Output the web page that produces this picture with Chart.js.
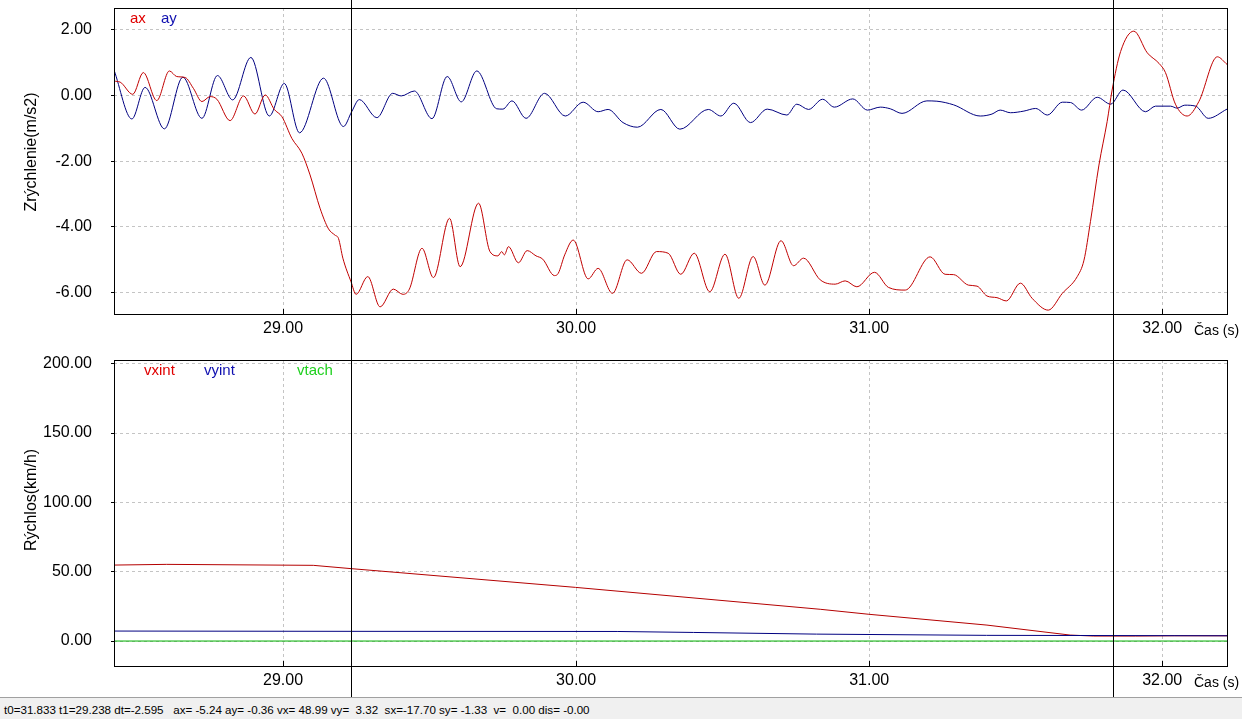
<!DOCTYPE html>
<html>
<head>
<meta charset="utf-8">
<script src="https://cdn.jsdelivr.net/npm/chart.js@4.4.0/dist/chart.umd.min.js"></script>
<style>
  body { margin: 0; width: 1242px; height: 719px; overflow: hidden; position: relative; background: #fff;
         font-family: "Liberation Sans", Arial, sans-serif; color: #000; }
  canvas { position: absolute; left: 0; }
  #accChart { top: 0; }
  #velChart { top: 345px; }
  .vt { position: absolute; font-size: 16px; white-space: nowrap; transform: translate(-50%, -50%) rotate(-90deg); }
  .lg { position: absolute; font-size: 15px; line-height: 15px; white-space: nowrap; }
  .unit { position: absolute; font-size: 14px; line-height: 14px; white-space: nowrap; }
  #status { position: absolute; left: 0; top: 697px; width: 1242px; height: 22px; background: #f0f0f0;
            border-top: 1px solid #a0a0a0; font-size: 11.6px; line-height: 23px; white-space: pre; padding-left: 4px; box-sizing: border-box; }
</style>
</head>
<body>
<canvas id="accChart" width="1242" height="345"></canvas>
<canvas id="velChart" width="1242" height="352"></canvas>

<div class="vt" style="left:31px; top:152px">Zrýchlenie(m/s2)</div>
<div class="vt" style="left:31px; top:500px">Rýchlos(km/h)</div>

<span class="lg" style="left:130px; top:10px; color:#e00000">ax</span>
<span class="lg" style="left:161px; top:10px; color:#1010b0">ay</span>
<span class="lg" style="left:144px; top:362px; color:#e00000">vxint</span>
<span class="lg" style="left:204px; top:362px; color:#1010b0">vyint</span>
<span class="lg" style="left:297px; top:362px; color:#20d020">vtach</span>

<span class="unit" style="left:1194px; top:323px">Čas (s)</span>
<span class="unit" style="left:1194px; top:675px">Čas (s)</span>

<div id="status">t0=31.833 t1=29.238 dt=-2.595   ax= -5.24 ay= -0.36 vx= 48.99 vy=  3.32  sx=-17.70 sy= -1.33  v=  0.00 dis= -0.00</div>

<script>
// ─── DATA ──────────────────────────────────
const xTicks   = [29, 30, 31, 32];
const accTicks = [-6, -4, -2, 0, 2];
const velTicks = [0, 50, 100, 150, 200];
const cursorTimes = [29.233, 31.831];

const axTime = [28.423, 28.444, 28.487, 28.523, 28.569, 28.612, 28.637, 28.666, 28.694, 28.723,
  28.751, 28.774, 28.819, 28.865, 28.904, 28.939, 28.970, 28.996, 29.030, 29.064,
  29.092, 29.126, 29.155, 29.177, 29.189, 29.204, 29.232, 29.249, 29.289, 29.331,
  29.376, 29.409, 29.431, 29.474, 29.513, 29.568, 29.604, 29.667, 29.706, 29.733,
  29.746, 29.755, 29.769, 29.803, 29.833, 29.863, 29.886, 29.926, 29.939, 29.961,
  29.990, 30.041, 30.075, 30.124, 30.174, 30.223, 30.274, 30.314, 30.357, 30.403,
  30.456, 30.508, 30.555, 30.604, 30.644, 30.699, 30.742, 30.776, 30.833, 30.884,
  30.918, 30.958, 31.018, 31.066, 31.123, 31.208, 31.259, 31.288, 31.339, 31.368,
  31.402, 31.436, 31.468, 31.516, 31.556, 31.611, 31.659, 31.710, 31.733, 31.755,
  31.784, 31.812, 31.829, 31.858, 31.903, 31.949, 31.989, 32.011, 32.045, 32.085,
  32.125, 32.188, 32.221];
const axVals = [0.43, 0.40, 0.03, 0.69, -0.16, 0.74, 0.57, 0.54, 0.21, -0.19,
  -0.04, -0.12, -0.77, -0.02, -0.57, 0.01, -0.43, -0.65, -1.31, -1.76,
  -2.42, -3.43, -4.06, -4.25, -4.35, -4.95, -5.67, -6.05, -5.51, -6.43,
  -5.89, -6.05, -5.89, -4.65, -5.54, -3.74, -5.21, -3.28, -4.75, -4.88,
  -4.75, -4.85, -4.60, -5.09, -4.72, -4.88, -4.98, -5.48, -5.41, -4.85,
  -4.40, -5.58, -5.26, -6.02, -5.00, -5.41, -4.75, -4.80, -5.44, -4.80,
  -5.97, -4.83, -6.17, -4.90, -5.77, -4.42, -5.18, -4.95, -5.61, -5.74,
  -5.64, -5.82, -5.38, -5.84, -5.92, -4.91, -5.44, -5.45, -5.77, -5.80,
  -6.10, -6.15, -6.25, -5.71, -6.17, -6.53, -6.02, -5.51, -5.01, -3.84,
  -2.12, -0.80, 0.16, 1.33, 1.95, 1.29, 0.97, 0.69, -0.27, -0.63,
  -0.19, 1.17, 0.94];

const ayTime = [28.423, 28.484, 28.529, 28.595, 28.658, 28.723, 28.776, 28.828, 28.890, 28.953,
  29.004, 29.056, 29.138, 29.195, 29.206, 29.234, 29.260, 29.320, 29.374, 29.403,
  29.448, 29.508, 29.560, 29.608, 29.661, 29.729, 29.750, 29.781, 29.829, 29.892,
  29.963, 30.024, 30.075, 30.109, 30.160, 30.209, 30.289, 30.354, 30.451, 30.494,
  30.538, 30.595, 30.652, 30.719, 30.753, 30.793, 30.841, 30.881, 30.944, 30.994,
  31.038, 31.072, 31.112, 31.197, 31.231, 31.288, 31.379, 31.419, 31.447, 31.482,
  31.528, 31.568, 31.608, 31.659, 31.687, 31.725, 31.778, 31.824, 31.866, 31.943,
  31.977, 32.028, 32.051, 32.077, 32.114, 32.157, 32.221];
const ayVals = [0.77, -0.72, 0.24, -1.02, 0.55, -0.70, 0.60, -0.14, 1.15, -0.63,
  0.36, -1.14, 0.52, -0.85, -0.95, -0.50, -0.13, -0.68, 0.06, -0.02,
  0.13, -0.71, 0.57, -0.20, 0.74, -0.41, -0.42, -0.17, -0.70, 0.06,
  -0.63, -0.21, -0.50, -0.43, -0.83, -0.97, -0.43, -1.03, -0.43, -0.63,
  -0.24, -0.83, -0.42, -0.60, -0.27, -0.43, -0.12, -0.36, -0.11, -0.45,
  -0.36, -0.41, -0.55, -0.17, -0.18, -0.29, -0.63, -0.57, -0.45, -0.53,
  -0.48, -0.40, -0.60, -0.21, -0.22, -0.45, -0.06, -0.27, 0.16, -0.50,
  -0.33, -0.33, -0.39, -0.30, -0.33, -0.70, -0.42];

const vxTime = [28.423, 28.603, 29.103, 29.233, 29.399, 29.998, 30.833, 30.999, 31.402, 31.686, 31.766, 31.908, 32.041, 32.221];
const vxVals = [54.8, 55.3, 54.6, 52.2, 49.3, 38.7, 22.9, 19.3, 11.5, 4.3, 3.6, 3.6, 3.8, 3.8];

const vyTime = [28.423, 29.233, 30.140, 30.400, 30.820, 31.400, 31.720, 32.221];
const vyVals = [7.2, 7.0, 6.9, 6.2, 5.0, 4.1, 4.0, 3.8];

const vtTime = [28.423, 32.221];
const vtVals = [0, 0];

// ─── HELPERS ──────────────────────────────────
const FONT = '"Liberation Sans", Arial, sans-serif';
Chart.defaults.font.family = FONT;
Chart.defaults.color = '#000';

const pts = (ts, vs) => ts.map((t, i) => ({ x: t, y: vs[i] }));

// frame round the plot, short ticks inside at the bottom, cursor lines
const framePlugin = {
  id: 'frame',
  afterDraw(chart) {
    const { ctx, chartArea: a } = chart;
    const x = chart.scales.x;
    ctx.save();
    ctx.strokeStyle = '#000';
    ctx.lineWidth = 1;
    ctx.strokeRect(a.left + 0.5, a.top + 0.5, a.right - a.left, a.bottom - a.top);
    ctx.beginPath();
    xTicks.forEach(v => {
      const px = Math.round(x.getPixelForValue(v)) + 0.5;
      ctx.moveTo(px, a.bottom + 1);
      ctx.lineTo(px, a.bottom - 5);
    });
    cursorTimes.forEach(t => {
      const px = Math.round(x.getPixelForValue(t)) + 0.5;
      ctx.moveTo(px, 0);
      ctx.lineTo(px, chart.height);
    });
    ctx.stroke();
    ctx.restore();
  }
};

function xScale() {
  return {
    type: 'linear', min: 28.423, max: 32.221,
    afterBuildTicks: s => { s.ticks = xTicks.map(v => ({ value: v })); },
    afterFit: s => { s.height = 31; s.paddingLeft = 0; s.paddingRight = 0; },
    grid: { color: '#c4c4c4', drawTicks: false },
    border: { display: false, dash: [3, 3] },
    ticks: { callback: v => v.toFixed(2), font: { size: 16 }, padding: 5, maxRotation: 0, autoSkip: false }
  };
}

function yScale(min, max, ticks) {
  return {
    min, max,
    afterBuildTicks: s => { s.ticks = ticks.map(v => ({ value: v })); },
    afterFit: s => { s.width = 114; s.paddingTop = 0; s.paddingBottom = 0; },
    grid: { color: '#c4c4c4', tickColor: '#000', tickLength: 3 },
    border: { display: false, dash: [3, 3] },
    ticks: { callback: v => v.toFixed(2), font: { size: 16 }, padding: 19 }
  };
}

function lineSet(data, color, smooth) {
  return {
    data, borderColor: color, borderWidth: 1, pointRadius: 0, fill: false,
    cubicInterpolationMode: smooth ? 'monotone' : 'default', tension: 0
  };
}

const baseOptions = {
  responsive: false, animation: false, devicePixelRatio: 1, events: [],
  plugins: { legend: { display: false }, tooltip: { enabled: false } }
};

// ─── CHARTS ──────────────────────────────────
new Chart(document.getElementById('accChart'), {
  type: 'line',
  data: { datasets: [
    lineSet(pts(axTime, axVals), '#c00000', true),
    lineSet(pts(ayTime, ayVals), '#000080', true)
  ] },
  options: { ...baseOptions,
    layout: { padding: { left: 0, right: 15, top: 8, bottom: 0 } },
    scales: { x: xScale(), y: yScale(-6.647, 2.653, accTicks) }
  },
  plugins: [framePlugin]
});

new Chart(document.getElementById('velChart'), {
  type: 'line',
  data: { datasets: [
    lineSet(pts(vyTime, vyVals), '#000080', false),
    lineSet(pts(vxTime, vxVals), '#b40000', false),
    lineSet(pts(vtTime, vtVals), '#00b000', false)
  ] },
  options: { ...baseOptions,
    layout: { padding: { left: 0, right: 15, top: 15, bottom: 0 } },
    scales: { x: xScale(), y: yScale(-18.0, 202.7, velTicks) }
  },
  plugins: [framePlugin]
});
</script>
</body>
</html>
